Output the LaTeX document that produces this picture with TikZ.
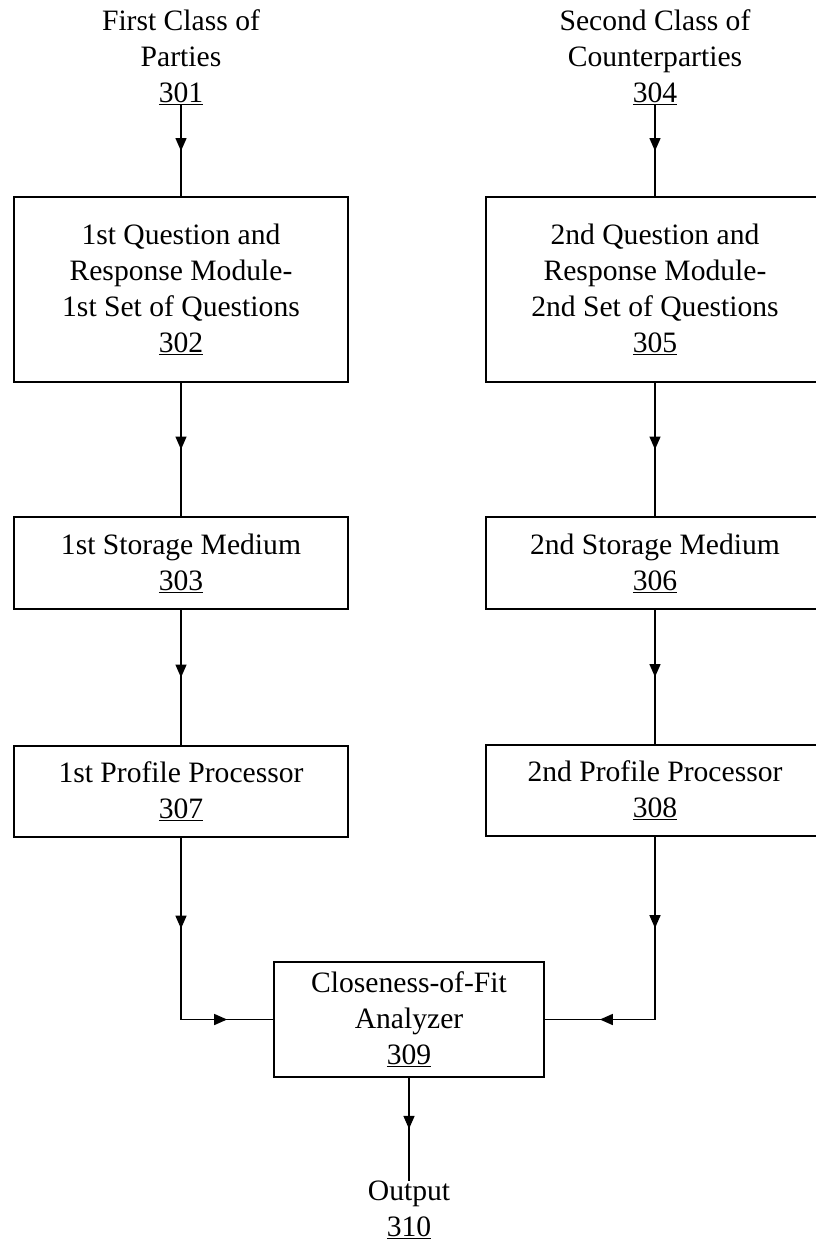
\documentclass[tikz,border=0pt]{standalone}
\usepackage{fontspec}
\setmainfont{Liberation Serif}
\usetikzlibrary{arrows.meta,decorations.markings}
\newcommand{\figfont}{\fontsize{29.6pt}{36pt}\selectfont}
\tikzset{
  lbl/.style={align=center, font=\figfont, inner sep=1pt},
  box/.style={draw, line width=1.5pt, align=center, font=\figfont, inner sep=0pt},
  link/.style={line width=1.5pt, line cap=rect},
  mid/.style={link, postaction={decorate},
    decoration={markings, mark=at position 0.5 with {\arrow{Triangle[length=13pt,width=11pt]}}}}
}
\begin{document}
\begin{tikzpicture}[x=1pt,y=-1pt]
\useasboundingbox (0,0) rectangle (816,1250);
\clip (0,0) rectangle (816,1250);
\fill[white] (0,0) rectangle (816,1250);

% labels on top
\node[lbl] (t301) at (181,57) {First Class of\\Parties\\\underline{301}};
\node[lbl] (t304) at (655,57) {Second Class of\\Counterparties\\\underline{304}};

% left column
\node[box, minimum width=334pt, minimum height=185pt] (b302) at (181,289.5)
  {1st Question and\\Response Module-\\1st Set of Questions\\\underline{302}};
\node[box, minimum width=334pt, minimum height=92pt] (b303) at (181,563)
  {1st Storage Medium\\\underline{303}};
\node[box, minimum width=334pt, minimum height=91pt] (b307) at (181,791.5)
  {1st Profile Processor\\\underline{307}};

% right column
\node[box, minimum width=338pt, minimum height=185pt] (b305) at (655,289.5)
  {2nd Question and\\Response Module-\\2nd Set of Questions\\\underline{305}};
\node[box, minimum width=338pt, minimum height=92pt] (b306) at (655,563)
  {2nd Storage Medium\\\underline{306}};
\node[box, minimum width=338pt, minimum height=91pt] (b308) at (655,790.5)
  {2nd Profile Processor\\\underline{308}};

% analyzer and output
\node[box, minimum width=270pt, minimum height=115pt] (b309) at (409,1019.5)
  {Closeness-of-Fit\\Analyzer\\\underline{309}};
\node[lbl, anchor=north] (out) at (409,1180) {Output\\\underline{310}};

% connectors
\draw[mid] (t301.south) -- (b302.north);
\draw[mid] (b302.south) -- (b303.north);
\draw[mid] (b303.south) -- (b307.north);
\draw[mid] (t304.south) -- (b305.north);
\draw[mid] (b305.south) -- (b306.north);
\draw[mid] (b306.south) -- (b308.north);

\coordinate (jl) at (b307.south |- b309.west);
\coordinate (jr) at (b308.south |- b309.east);
\draw[mid] (b307.south) -- (jl);
\draw[mid] (jl) -- (b309.west);
\draw[mid] (b308.south) -- (jr);
\draw[mid] (jr) -- (b309.east);
\draw[mid] (b309.south) -- (out.north);
\end{tikzpicture}
\end{document}
